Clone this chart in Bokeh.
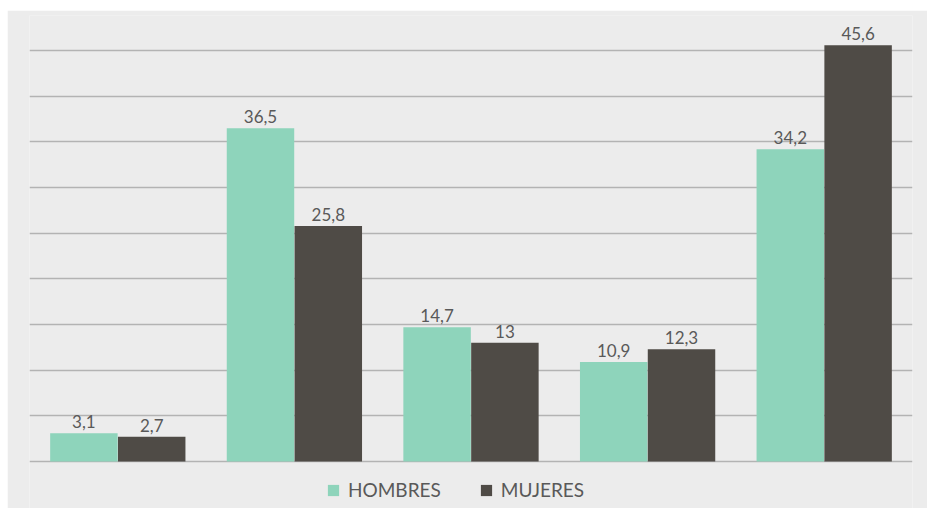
from bokeh.plotting import figure
from bokeh.models import ColumnDataSource, LabelSet, FixedTicker, Legend, LegendItem
from bokeh.core.properties import value
from bokeh.transform import dodge
from bokeh.embed import file_html
from bokeh.resources import INLINE

categories = ["1", "2", "3", "4", "5"]
hombres = [3.1, 36.5, 14.7, 10.9, 34.2]
mujeres = [2.7, 25.8, 13.0, 12.3, 45.6]
series_names = ["HOMBRES", "MUJERES"]
grid_ticks = [0, 5, 10, 15, 20, 25, 30, 35, 40, 45]

def fmt(v):
    s = ("%.1f" % v).rstrip("0").rstrip(".")
    return s.replace(".", ",")

src = ColumnDataSource(dict(
    cat=categories,
    h=hombres,
    m=mujeres,
    hl=[fmt(v) for v in hombres],
    ml=[fmt(v) for v in mujeres],
))

BG = "#ececec"
C_H = "#8ed4bb"
C_M = "#4f4b46"
TXT = "#595959"
FONT = "Lato"

p = figure(x_range=categories, y_range=(-5.15, 48.85), width=920, height=498,
           output_backend="svg", toolbar_location=None,
           background_fill_color=BG, border_fill_color=BG,
           min_border_left=22, min_border_right=15, min_border_top=5, min_border_bottom=0)
p.margin = (10, 0, 0, 7)
p.outline_line_color = None
p.xaxis.visible = False
p.yaxis.visible = False
p.xgrid.visible = False
p.ygrid.ticker = FixedTicker(ticks=grid_ticks)
p.ygrid.grid_line_color = "#b3b3b3"
p.ygrid.grid_line_width = 1.3

off = 0.192
w = 0.382
r1 = p.vbar(x=dodge("cat", -off, range=p.x_range), top="h", bottom=0, width=w, source=src,
            fill_color=C_H, line_color=None)
r2 = p.vbar(x=dodge("cat", off, range=p.x_range), top="m", bottom=0, width=w, source=src,
            fill_color=C_M, line_color=None)

for col, lab, d in (("h", "hl", -off), ("m", "ml", off)):
    ls = LabelSet(x=dodge("cat", d, range=p.x_range), y=col, text=lab, source=src,
                  y_offset=5, text_align="center", text_baseline="bottom",
                  text_font=value(FONT), text_font_size=value("17px"), text_color=value(TXT))
    p.add_layout(ls)

legend = Legend(items=[LegendItem(label=series_names[0], renderers=[r1]),
                       LegendItem(label=series_names[1], renderers=[r2])],
                orientation="horizontal", location=(297, 7),
                glyph_width=14, glyph_height=14, label_standoff=8, spacing=38,
                label_text_font=FONT, label_text_font_size="19px", label_text_color=TXT,
                background_fill_alpha=0, border_line_color=None,
                padding=0, margin=0)
p.add_layout(legend)

open("out.html", "w").write(file_html(p, INLINE))
